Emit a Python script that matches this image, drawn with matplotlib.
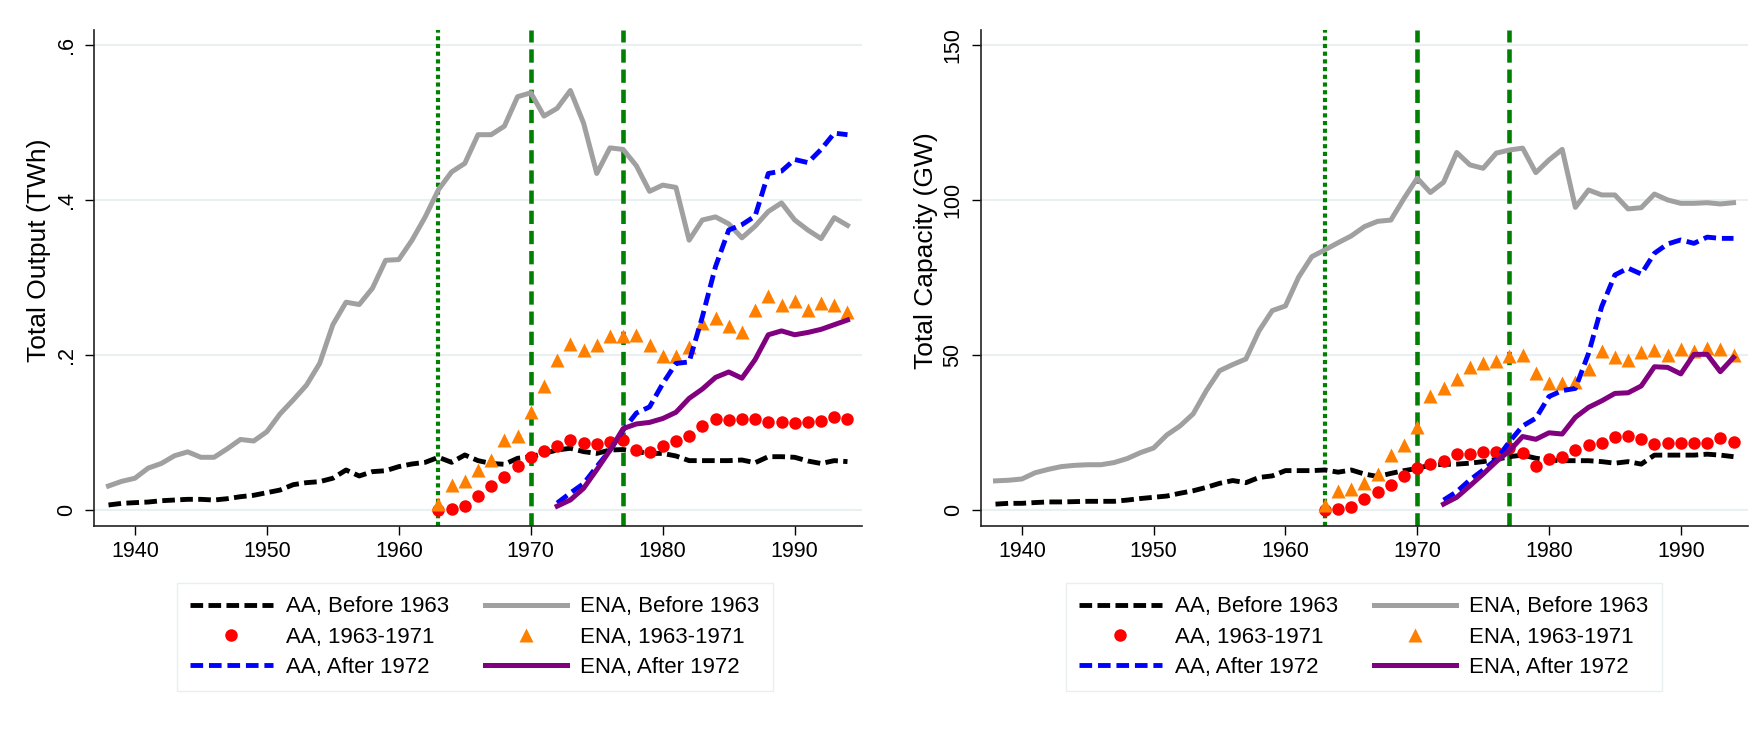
import numpy as np
import matplotlib
matplotlib.use("Agg")
import matplotlib.pyplot as plt

plt.rcParams['font.family'] = ['Liberation Sans', 'DejaVu Sans']

# x categories
years_before = np.arange(1938, 1995)
years_mid = np.arange(1963, 1995)
years_after = np.arange(1972, 1995)

# Total output (TWh)
aa_before_out = [0.0065, 0.0086, 0.0095, 0.0103, 0.012, 0.0129, 0.0138, 0.0138, 0.0129, 0.0146,
                 0.0172, 0.019, 0.0224, 0.0258, 0.0327, 0.0353, 0.0366, 0.041, 0.0516, 0.0439,
                 0.0495, 0.0507, 0.056, 0.0594, 0.0615,
                 0.068, 0.0615, 0.071, 0.0637, 0.060, 0.059, 0.0667, 0.0688,
                 0.073, 0.0774, 0.0796, 0.0753, 0.073, 0.0774, 0.078, 0.0753, 0.073, 0.073,
                 0.0697, 0.0637, 0.0637, 0.0637, 0.0637, 0.0645, 0.061, 0.0688, 0.0688, 0.068,
                 0.0632, 0.060, 0.0637, 0.0624]
ena_before_out = [0.031, 0.037, 0.041, 0.054, 0.060, 0.070, 0.075, 0.068, 0.068, 0.079,
                  0.091, 0.089, 0.101, 0.124, 0.142, 0.161, 0.189, 0.239, 0.268, 0.265,
                  0.286, 0.322, 0.323, 0.348, 0.378,
                  0.413, 0.436, 0.447, 0.484, 0.484, 0.495, 0.533, 0.538,
                  0.508, 0.518, 0.541, 0.499, 0.434, 0.467, 0.465, 0.444, 0.411, 0.419,
                  0.416, 0.348, 0.374, 0.378, 0.369, 0.351, 0.366, 0.385, 0.396, 0.374,
                  0.361, 0.350, 0.377, 0.367]
aa_mid_out = [0.0, 0.001, 0.005, 0.018, 0.031, 0.042, 0.057, 0.068,
              0.076, 0.083, 0.090, 0.086, 0.085, 0.088, 0.090, 0.077, 0.075, 0.083,
              0.089, 0.095, 0.108, 0.117, 0.116, 0.118, 0.118, 0.113, 0.114, 0.112,
              0.113, 0.115, 0.120, 0.117]
ena_mid_out = [0.008, 0.032, 0.038, 0.052, 0.065, 0.090, 0.096, 0.127,
               0.160, 0.194, 0.214, 0.206, 0.213, 0.225, 0.224, 0.226, 0.213, 0.198,
               0.199, 0.210, 0.241, 0.247, 0.237, 0.230, 0.258, 0.276, 0.265, 0.270,
               0.258, 0.267, 0.265, 0.256]
aa_after_out = [0.009, 0.022, 0.034, 0.056, 0.077, 0.103, 0.125, 0.133, 0.163,
                0.189, 0.191, 0.249, 0.314, 0.361, 0.368, 0.379, 0.434, 0.437, 0.452,
                0.448, 0.465, 0.486, 0.484]
ena_after_out = [0.005, 0.013, 0.028, 0.052, 0.077, 0.105, 0.111, 0.113, 0.118,
                 0.126, 0.144, 0.156, 0.171, 0.178, 0.170, 0.194, 0.226, 0.231, 0.226,
                 0.229, 0.233, 0.239, 0.245]

# Total capacity (GW)
aa_before_cap = [1.9, 2.15, 2.15, 2.4, 2.6, 2.6, 2.7, 2.8, 2.8, 2.8,
                 3.2, 3.7, 4.1, 4.5, 5.4, 6.2, 7.3, 8.6, 9.5, 8.8,
                 10.5, 11.0, 12.7, 12.7, 12.7,
                 12.9, 12.2, 12.9, 11.6, 10.8, 11.8, 12.7, 13.4,
                 14.5, 14.7, 14.8, 15.1, 15.6, 16.3, 17.2, 17.7, 16.7, 16.1,
                 15.9, 15.9, 15.9, 15.6, 15.1, 15.6, 14.8, 17.7, 17.7, 17.7,
                 17.7, 18.0, 17.7, 17.2]
ena_before_cap = [9.4, 9.6, 10.0, 12.0, 13.1, 14.0, 14.4, 14.6, 14.6, 15.3,
                  16.6, 18.5, 20.0, 24.2, 27.1, 31.0, 38.5, 44.9, 46.9, 48.7,
                  57.8, 64.3, 65.8, 75.1, 81.7,
                  83.9, 86.2, 88.4, 91.4, 93.1, 93.5, 100.5, 107.0,
                  102.4, 105.7, 115.3, 111.3, 110.2, 115.1, 116.1, 116.7, 108.8, 112.9,
                  116.3, 97.6, 103.2, 101.6, 101.6, 97.1, 97.5, 101.9, 100.0, 98.9,
                  98.9, 99.1, 98.7, 99.1]
aa_mid_cap = [0.0, 0.2, 1.1, 3.7, 5.9, 8.1, 11.1, 13.4,
              14.7, 15.9, 18.1, 18.1, 18.6, 18.8, 19.9, 18.5, 14.3, 16.3,
              17.2, 19.4, 21.0, 21.5, 23.4, 23.9, 22.8, 21.3, 21.7, 21.7,
              21.7, 21.7, 23.1, 21.9]
ena_mid_cap = [1.6, 6.2, 6.7, 8.6, 11.6, 17.7, 21.0, 26.7,
               36.8, 39.2, 42.2, 46.0, 47.3, 48.2, 49.7, 49.9, 44.3, 41.1,
               41.1, 41.4, 45.6, 51.4, 49.2, 48.4, 50.8, 51.6, 50.0, 51.9,
               51.4, 52.2, 51.9, 50.0]
aa_after_cap = [3.2, 5.9, 9.7, 12.9, 16.3, 22.0, 27.1, 29.6, 36.6,
                38.5, 39.2, 50.5, 65.6, 75.8, 78.0, 76.1, 82.8, 85.8, 87.1,
                86.0, 88.0, 87.6, 87.6]
ena_after_cap = [1.9, 4.1, 7.8, 11.6, 15.6, 19.1, 23.7, 22.8, 24.9,
                 24.5, 29.9, 33.1, 35.2, 37.6, 37.8, 40.0, 46.2, 46.0, 43.9,
                 50.2, 50.2, 44.6, 49.2]

# event years
dotted_year = 1963
dashed_years = [1970, 1977]

x_ticks = [1940, 1950, 1960, 1970, 1980, 1990]
out_ticks = [0, 0.2, 0.4, 0.6]
out_tick_labels = ["0", ".2", ".4", ".6"]
cap_ticks = [0, 50, 100, 150]
cap_tick_labels = ["0", "50", "100", "150"]

labels = ["AA, Before 1963", "ENA, Before 1963",
          "AA, 1963-1971", "ENA, 1963-1971",
          "AA, After 1972", "ENA, After 1972"]

GRID = '#EAF0F2'
GREEN = '#008000'


def draw_panel(ax, series, ylim, yticks, yticklabels, ylabel, leg_x):
    aa_b, ena_b, aa_m, ena_m, aa_a, ena_a = series
    for y in yticks:
        ax.axhline(y, color=GRID, lw=1.5, zorder=0)

    ax.axvline(dotted_year, color=GREEN, lw=3.0, dashes=(1.0, 0.85), zorder=1)
    for yr in dashed_years:
        ax.axvline(yr, color=GREEN, lw=3.3, dashes=(2.9, 1.5), zorder=1)

    h = {}
    h[0], = ax.plot(years_before, aa_b, color='black', lw=3.5, dashes=(2.6, 1.1), zorder=3)
    h[1], = ax.plot(years_before, ena_b, color='#A0A0A0', lw=3.6, zorder=3)
    h[2], = ax.plot(years_mid, aa_m, 'o', color='#FF0000', ms=9, mec='none', zorder=4)
    h[3], = ax.plot(years_mid, ena_m, '^', color='#FF8000', ms=10.5, mec='none', zorder=4)
    h[4], = ax.plot(years_after, aa_a, color='#0000FF', lw=3.5, dashes=(2.6, 1.2), zorder=5)
    h[5], = ax.plot(years_after, ena_a, color='#800080', lw=3.6, zorder=5)

    ax.set_xlim(1936.9, 1995.1)
    ax.set_ylim(*ylim)
    ax.set_xticks(x_ticks)
    ax.set_yticks(yticks)
    ax.set_yticklabels(yticklabels, rotation=90, va='center')
    ax.tick_params(axis='both', direction='out', length=6.5, width=1.0,
                   labelsize=15.5, colors='black')
    ax.tick_params(axis='x', pad=4)
    ax.tick_params(axis='y', pad=6)
    for side in ['top', 'right']:
        ax.spines[side].set_visible(False)
    for side in ['left', 'bottom']:
        ax.spines[side].set_linewidth(1.2)
        ax.spines[side].set_color('#222222')

    ax.set_ylabel(ylabel, fontsize=19)
    ax.yaxis.set_label_coords(-0.056, 0.556)

    # matplotlib fills legend columns first; reorder to match row-wise layout
    order = [0, 2, 4, 1, 3, 5]
    leg = ax.figure.legend([h[i] for i in order], [labels[i] for i in order],
                           ncol=2, loc='upper left', bbox_to_anchor=(leg_x, 1 - 583 / 736),
                           fontsize=16, frameon=True, fancybox=False,
                           edgecolor='#E4ECEE', handlelength=3.7, handletextpad=0.6,
                           columnspacing=1.6, labelspacing=0.42, borderpad=0.6,
                           borderaxespad=0)
    leg.get_frame().set_linewidth(1.0)


fig = plt.figure(figsize=(17.64, 7.36), dpi=100)
fig.patch.set_facecolor('white')

ax1 = fig.add_axes([94 / 1764, 1 - 526 / 736, 768 / 1764, 496 / 736])
ax2 = fig.add_axes([981 / 1764, 1 - 526 / 736, 767 / 1764, 496 / 736])

draw_panel(ax1, [aa_before_out, ena_before_out, aa_mid_out, ena_mid_out, aa_after_out, ena_after_out],
           (-0.0206, 0.619), out_ticks, out_tick_labels, "Total Output (TWh)", 177 / 1764)
draw_panel(ax2, [aa_before_cap, ena_before_cap, aa_mid_cap, ena_mid_cap, aa_after_cap, ena_after_cap],
           (-5.16, 154.8), cap_ticks, cap_tick_labels, "Total Capacity (GW)", 1066 / 1764)

fig.savefig("out.png", dpi=100)
plt.close(fig)
